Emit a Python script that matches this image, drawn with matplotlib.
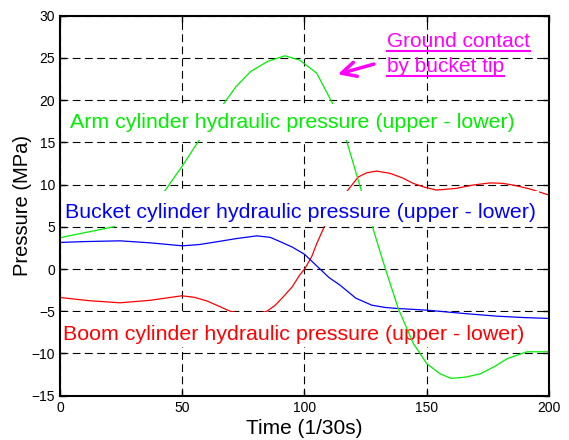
import matplotlib
matplotlib.use("Agg")
import matplotlib.pyplot as plt
from matplotlib.lines import Line2D
from matplotlib.patches import Rectangle

plt.rcParams['font.family'] = ['Liberation Sans', 'DejaVu Sans']

# arm cylinder (upper - lower), green
arm_t = [0, 10, 22, 32, 43, 50, 57, 62, 67, 72, 78, 85, 92, 98, 105, 111.5,
         117, 123.4, 127.7, 133, 138.4, 144.5, 150, 155.4, 160, 166, 172,
         178, 183, 191, 200]
arm_p = [3.7, 4.3, 5.0, 6.8, 9.3, 12.2, 15.3, 17.5, 19.6, 21.6, 23.4, 24.6,
         25.25, 24.75, 23.2, 19.6, 15.4, 9.15, 5.1, 0.1, -4.7, -8.8, -11.2,
         -12.4, -12.95, -12.8, -12.4, -11.5, -10.6, -9.8, -9.8]

# bucket cylinder, blue
bucket_t = [0, 10, 24.5, 37, 50, 57, 64, 72, 80.5, 86, 90, 95, 100, 106, 110,
            114.5, 121, 127.5, 133, 138, 150, 165, 178.6, 190, 200]
bucket_p = [3.15, 3.25, 3.34, 3.1, 2.75, 2.9, 3.22, 3.6, 3.93, 3.75, 3.25, 2.6,
            1.75, 0.1, -1.0, -1.9, -3.45, -4.28, -4.55, -4.67, -4.87, -5.26,
            -5.58, -5.75, -5.85]

# boom cylinder, red
boom_t = [0, 12, 24.5, 37, 49.8, 55, 60, 65, 69.6, 74, 78, 82, 84.6, 88, 91.3,
          95, 98, 100.2, 103, 105, 108.2, 112, 117.2, 122, 125.5, 129.5, 135,
          140, 144.5, 149, 154, 162, 169, 175.9, 181, 185.4, 192, 200]
boom_p = [-3.37, -3.75, -4.0, -3.7, -3.17, -3.35, -3.77, -4.4, -5.0, -5.25,
          -5.35, -5.2, -5.0, -4.3, -3.3, -2.1, -0.73, 0.07, 1.5, 3.0, 5.08,
          7.2, 9.15, 10.9, 11.4, 11.6, 11.33, 10.8, 10.14, 9.7, 9.35, 9.55,
          9.95, 10.2, 10.15, 9.94, 9.5, 8.76]

x_ticks = [0, 50, 100, 150, 200]
y_ticks = [-15, -10, -5, 0, 5, 10, 15, 20, 25, 30]

green = '#00ee00'

fig = plt.figure(figsize=(5.69, 4.40), dpi=100)
ax = fig.add_axes([0.1054, 0.1007, 0.8594, 0.8636])

ax.plot(boom_t, boom_p, color='red', lw=0.9, zorder=2)
ax.plot(bucket_t, bucket_p, color='blue', lw=0.9, zorder=3)
ax.plot(arm_t, arm_p, color=green, lw=0.9, zorder=3)

# labels: (x, baseline y, text, colour, zorder, pad top px, pad bottom px)
labels = [
    (1.2, -8.42, 'Boom cylinder hydraulic pressure (upper - lower)', 'red', 2.5, 13.5, 3),
    (2.0, 6.0, 'Bucket cylinder hydraulic pressure (upper - lower)', 'blue', 4, 12, 4),
    (4.0, 16.73, 'Arm cylinder hydraulic pressure (upper - lower)', green, 4, 8.5, 8),
]
label_texts = []
for x, y, s, c, z, pt, pb in labels:
    t = ax.text(x, y, s, color=c, fontsize=15.4, va='baseline', zorder=z)
    label_texts.append((t, z, pt, pb))

# annotation
t1 = ax.text(133.6, 26.33, 'Ground contact', color='magenta', fontsize=15,
             va='baseline', zorder=5)
t2 = ax.text(133.6, 23.36, 'by bucket tip', color='magenta', fontsize=15,
             va='baseline', zorder=5)
ax.annotate('', xy=(112.5, 22.97), xytext=(129.5, 24.36),
            arrowprops=dict(arrowstyle='->', color='magenta', lw=2.5,
                            mutation_scale=26), zorder=5)

ax.set_xlim(0, 200)
ax.set_ylim(-15, 30)
ax.set_xticks(x_ticks)
ax.set_yticks(y_ticks)
ax.tick_params(direction='in', length=4, top=True, right=True, labelsize=10,
               width=1)
ax.grid(True, color='black', linestyle=(0, (7, 4)), lw=0.8)
ax.set_axisbelow(True)
for s in ax.spines.values():
    s.set_linewidth(1.5)
    s.set_zorder(6)

ax.set_xlabel('Time (1/30s)', fontsize=15, labelpad=3)
ax.set_ylabel('Pressure (MPa)', fontsize=14.5, labelpad=0)

fig.canvas.draw()
inv = ax.transData.inverted()

# white boxes behind the curve labels
for t, z, pt, pb in label_texts:
    bb = t.get_window_extent()
    (x0, y0) = inv.transform((bb.x0 - 3, bb.y0 - pb))
    (x1, y1) = inv.transform((bb.x1 + 3, bb.y1 + pt))
    ax.add_patch(Rectangle((x0, y0), x1 - x0, y1 - y0, facecolor='white',
                           edgecolor='none', zorder=z - 0.05))

# underline the annotation text
for t in (t1, t2):
    bb = t.get_window_extent()
    y = bb.y0 - 0.5
    fig.add_artist(Line2D([bb.x0, bb.x1], [y, y], transform=None,
                          color='magenta', lw=1.5))

fig.savefig('out.png', dpi=100)
